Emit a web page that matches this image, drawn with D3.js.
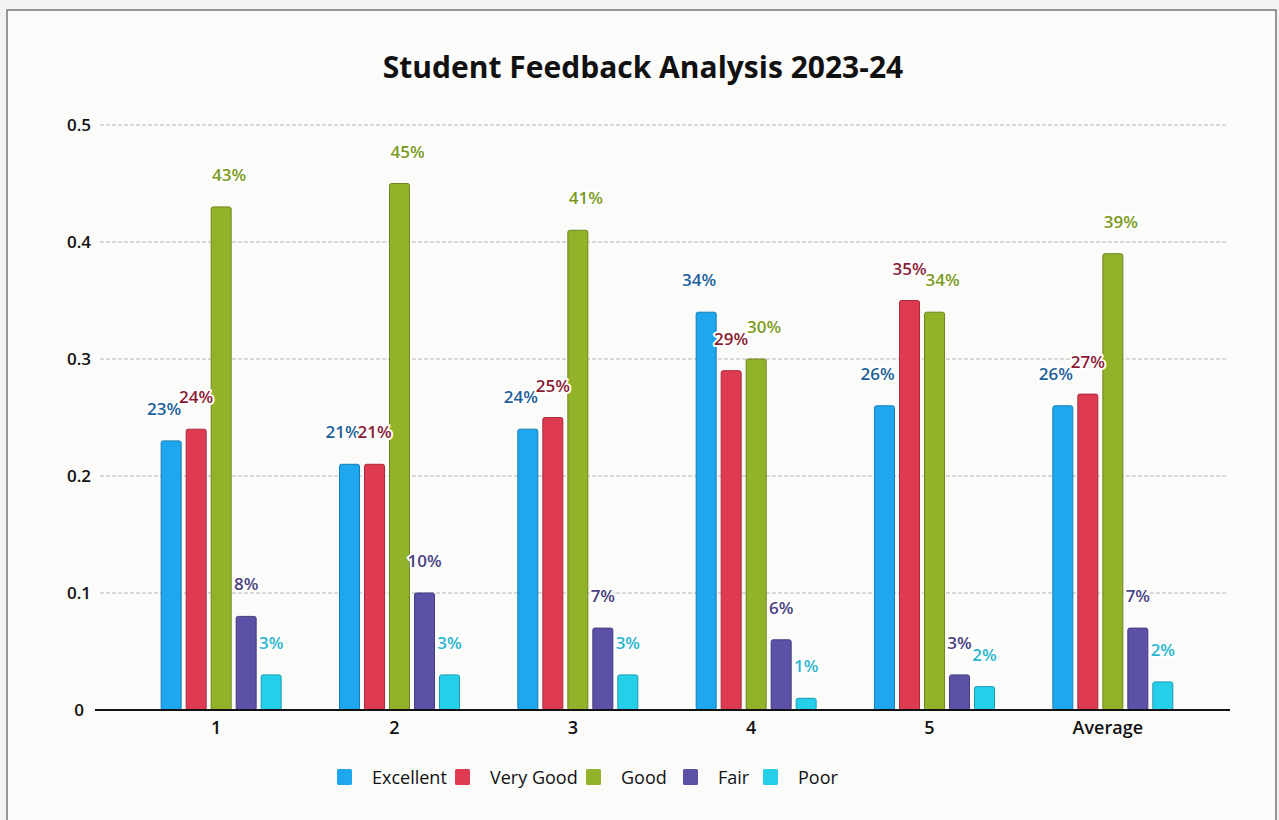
<!DOCTYPE html>
<html>
<head>
<meta charset="utf-8">
<script src="https://cdn.jsdelivr.net/npm/d3@7"></script>
<style>
  body { margin: 0; background: #f4f4f2; }
  svg { display: block; }
</style>
</head>
<body>
<div id="chart"></div>
<script>
// Data
const categories = ["1", "2", "3", "4", "5", "Average"];
const seriesNames = ["Excellent", "Very Good", "Good", "Fair", "Poor"];
const excellent = [0.23, 0.21, 0.24, 0.34, 0.26, 0.26];
const veryGood  = [0.24, 0.21, 0.25, 0.29, 0.35, 0.27];
const good      = [0.43, 0.45, 0.41, 0.30, 0.34, 0.39];
const fair      = [0.08, 0.10, 0.07, 0.06, 0.03, 0.07];
const poor      = [0.03, 0.03, 0.03, 0.01, 0.02, 0.024];
const yTicks = [0, 0.1, 0.2, 0.3, 0.4, 0.5];

const seriesValues = [excellent, veryGood, good, fair, poor];
const barColors   = ["#1ea6ee", "#de3a52", "#92b22a", "#5b51a6", "#25cfea"];
const labelColors = ["#1d5f98", "#8a1c33", "#7a9a22", "#4a427f", "#2bb5cf"];

const width = 1279, height = 820;
const margin = { top: 125, right: 82, bottom: 110, left: 127 };
const font = "'Open Sans', sans-serif";

let svg = d3.select('#chart').append('svg')
    .attr('width', width)
    .attr('height', height);

// paper background and frame
svg.append("rect")
    .attr("x", 0).attr("y", 0)
    .attr("width", width).attr("height", height)
    .attr("fill", "#f2f2f0");
svg.append("rect")
    .attr("x", 7).attr("y", 10)
    .attr("width", 1269).attr("height", 830)
    .attr("fill", "#fbfbfa")
    .attr("stroke", "#777")
    .attr("stroke-width", 1.5);

let x = d3.scaleBand()
    .domain(categories)
    .range([margin.left, width - margin.right])
    .paddingInner(0)
    .paddingOuter(0);

let xSub = d3.scaleBand()
    .domain(seriesNames)
    .range([-55, 65])
    .paddingInner(0.2);

let y = d3.scaleLinear()
    .domain([0, 0.5])
    .range([710, 125]);

// title
svg.append("text")
    .attr("x", 643).attr("y", 78)
    .attr("text-anchor", "middle")
    .style("font-family", font)
    .style("font-weight", "bold")
    .style("font-size", "30px")
    .attr("fill", "#111")
    .text("Student Feedback Analysis 2023-24");

// gridlines
svg.append("g")
    .selectAll("line")
    .data(yTicks.filter(d => d > 0))
    .enter()
    .append("line")
    .attr("x1", 100).attr("x2", 1228)
    .attr("y1", d => y(d)).attr("y2", d => y(d))
    .attr("stroke", "#b5b5b5")
    .attr("stroke-dasharray", "4,2")
    .attr("stroke-width", 1);

// y tick labels
svg.append("g")
    .selectAll("text")
    .data(yTicks)
    .enter()
    .append("text")
    .attr("x", 79)
    .attr("y", d => y(d) + 6)
    .attr("text-anchor", "middle")
    .style("font-family", font)
    .style("font-size", "17px")
    .style("font-weight", 600)
    .attr("fill", "#111")
    .text(d => d === 0 ? "0" : d3.format(".1f")(d));

// bars
let groups = svg.append("g")
    .selectAll("g")
    .data(categories)
    .enter()
    .append("g")
    .attr("transform", d => `translate(${x(d) + x.bandwidth() / 2},0)`);

seriesNames.forEach(function (name, si) {
    groups.append("rect")
        .attr("x", (d, i) => xSub(name))
        .attr("y", (d, i) => y(seriesValues[si][i]))
        .attr("width", xSub.bandwidth())
        .attr("height", (d, i) => y(0) - y(seriesValues[si][i]))
        .attr("rx", 2)
        .attr("fill", barColors[si])
        .attr("stroke", d3.color(barColors[si]).darker(0.8))
        .attr("stroke-width", 1);
});

// baseline
svg.append("line")
    .attr("x1", 95).attr("x2", 1230)
    .attr("y1", y(0)).attr("y2", y(0))
    .attr("stroke", "#111")
    .attr("stroke-width", 2);

// value labels, nudged sideways a little so neighbours collide less
const labelShift = [-7, 0, 8, 0, 0];
seriesNames.forEach(function (name, si) {
    groups.append("text")
        .attr("x", (d, i) => xSub(name) + xSub.bandwidth() / 2 + labelShift[si])
        .attr("y", (d, i) => y(seriesValues[si][i]) - 26)
        .attr("text-anchor", "middle")
        .style("font-family", font)
        .style("font-size", "17px")
        .style("font-weight", 600)
        .style("paint-order", "stroke")
        .attr("stroke", "#fff")
        .attr("stroke-width", 4)
        .attr("stroke-linejoin", "round")
        .attr("fill", labelColors[si])
        .text((d, i) => Math.round(seriesValues[si][i] * 100) + "%");
});

// x labels
svg.append("g")
    .selectAll("text")
    .data(categories)
    .enter()
    .append("text")
    .attr("x", d => x(d) + x.bandwidth() / 2)
    .attr("y", 734)
    .attr("text-anchor", "middle")
    .style("font-family", font)
    .style("font-size", "18px")
    .style("font-weight", 600)
    .attr("fill", "#111")
    .text(d => d);

// legend
const legendX = [337, 455, 586, 683, 763];
let legend = svg.append("g")
    .selectAll("g")
    .data(seriesNames)
    .enter()
    .append("g")
    .attr("transform", (d, i) => `translate(${legendX[i]},769)`);

legend.append("rect")
    .attr("width", 15).attr("height", 16)
    .attr("rx", 1.5)
    .attr("fill", (d, i) => barColors[i]);

legend.append("text")
    .attr("x", 35).attr("y", 15)
    .style("font-family", font)
    .style("font-size", "18px")
    .style("font-weight", 500)
    .attr("fill", "#111")
    .text(d => d);
</script>
</body>
</html>
